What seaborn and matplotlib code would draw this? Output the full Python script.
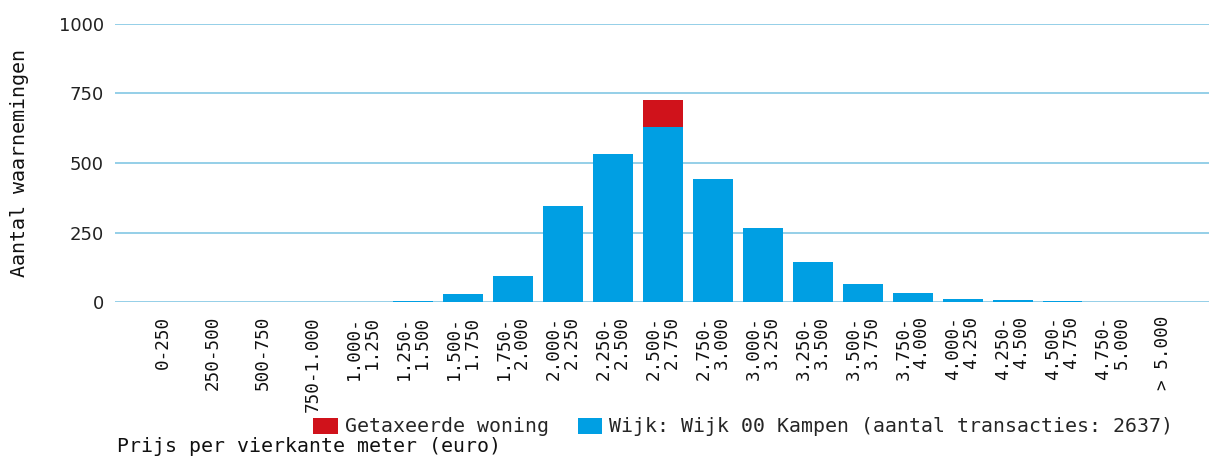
import matplotlib
matplotlib.use("Agg")
import matplotlib.pyplot as plt
import seaborn as sns
import pandas as pd
from matplotlib.patches import Patch

categories = ["0-250", "250-500", "500-750", "750-1.000", "1.000-\n1.250", "1.250-\n1.500",
              "1.500-\n1.750", "1.750-\n2.000", "2.000-\n2.250", "2.250-\n2.500", "2.500-\n2.750",
              "2.750-\n3.000", "3.000-\n3.250", "3.250-\n3.500", "3.500-\n3.750", "3.750-\n4.000",
              "4.000-\n4.250", "4.250-\n4.500", "4.500-\n4.750", "4.750-\n5.000", "> 5.000"]
wijk_values = [0, 0, 0, 0, 0, 3, 30, 94, 345, 532, 630, 442, 266, 145, 64, 32, 11, 6, 3, 0, 0]
getaxeerd_values = [0, 0, 0, 0, 0, 0, 0, 0, 0, 0, 97, 0, 0, 0, 0, 0, 0, 0, 0, 0, 0]
y_ticks = [0, 250, 500, 750, 1000]

label_red = "Getaxeerde woning"
label_blue = "Wijk: Wijk 00 Kampen (aantal transacties: 2637)"
xlabel = "Prijs per vierkante meter (euro)"
ylabel = "Aantal waarnemingen"

BLUE = "#009fe3"
RED = "#d0121b"
GRID = "#8ccbe6"
MONO = "DejaVu Sans Mono"

df = pd.DataFrame({"cat": categories, "wijk": wijk_values,
                   "total": [a + b for a, b in zip(wijk_values, getaxeerd_values)]})

sns.set_theme(style="white")
fig = plt.figure(figsize=(12.09, 4.57), dpi=100)
ax = fig.add_axes([115/1209, 1 - 302/457, 1 - 115/1209, (302 - 24)/457])

sns.barplot(data=df, x="cat", y="total", color=RED, saturation=1, width=0.8, ax=ax,
            zorder=3, edgecolor="none", linewidth=0)
sns.barplot(data=df, x="cat", y="wijk", color=BLUE, saturation=1, width=0.8, ax=ax,
            zorder=4, edgecolor="none", linewidth=0)

ax.set_xlim(-0.95, 20.93)
ax.set_ylim(0, 1000)
ax.set_yticks(y_ticks)
ax.set_yticklabels([str(v) for v in y_ticks], fontsize=13, color="#222222", family="DejaVu Sans")
ax.yaxis.grid(True, color=GRID, linewidth=1.3, zorder=0)
ax.set_axisbelow(True)
for s in ax.spines.values():
    s.set_visible(False)
ax.tick_params(axis="both", length=0)
ax.tick_params(axis="y", pad=8)
ax.tick_params(axis="x", pad=10)

ax.set_xticks(range(len(categories)))
ax.set_xticklabels(categories, rotation=90, ha="center", va="top", multialignment="right",
                   fontsize=12.7, family=MONO, color="#111111", linespacing=1.0)
ax.set_xlabel("")
ax.set_ylabel("")

fig.text(20/1209, 1 - 163/457, ylabel, rotation=90, ha="center", va="center",
         fontsize=14.4, family=MONO, color="#111111")
fig.text(117/1209, 1 - 447/457, xlabel, ha="left", va="center",
         fontsize=14.3, family=MONO, color="#111111")

handles = [Patch(facecolor=RED, edgecolor="none"), Patch(facecolor=BLUE, edgecolor="none")]
fig.legend(handles, [label_red, label_blue], loc="center left",
           bbox_to_anchor=(313/1209, 1 - 427/457), ncol=2, frameon=False,
           prop={"family": MONO, "size": 14.3}, handlelength=1.25, handleheight=0.85,
           handletextpad=0.35, columnspacing=1.45, borderaxespad=0, borderpad=0)

fig.savefig("out.png", dpi=100)
